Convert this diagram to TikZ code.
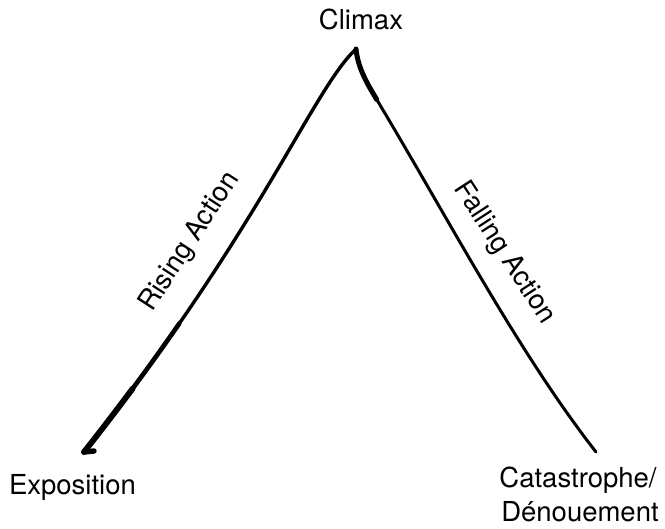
\documentclass[tikz,border=0pt]{standalone}
\usepackage{fontspec}
\setmainfont{TeX Gyre Heros}
\begin{document}
\begin{tikzpicture}[
    x=1pt, y=-1pt,
    curve/.style={line width=3.4pt, line cap=round, line join=round},
    lead/.style={dash pattern=on #1 off 2000pt},
    label/.style={font=\fontsize{27.5}{33}\selectfont, inner sep=0pt}
]
\useasboundingbox (0,0) rectangle (665,529);

% ends and top of the plot
\coordinate (expo) at (84,452);
\coordinate (hook) at (94,451);
\coordinate (climax) at (356,49);
\coordinate (bend) at (377,100);
\coordinate (cata) at (596,452);

% rising side, heavier towards the bottom
\def\risepath{(expo) .. controls (262,227) and (313,89) .. (climax)}
\draw[curve] \risepath;
\draw[curve, line width=4.6pt, lead=160pt] \risepath;
\draw[curve, line width=5.8pt, lead=80pt] \risepath;
\draw[curve, line width=5.4pt] (hook) -- (expo);

% falling side, heavier near the top
\def\fallpath{(climax) .. controls (358,70) and (370,88) .. (bend)
  .. controls (449,220) and (518,352) .. (cata)}
\draw[curve, line width=3pt] \fallpath;
\draw[curve, line width=5pt, lead=55pt] \fallpath;

\node[label, anchor=base] (climaxlbl) at (361,30) {Climax};
\node[label, anchor=base] (expolbl) at (72.5,495) {Exposition};
\node[label, anchor=base] (catalbl) at (578,488) {Catastrophe/};
\node[label, anchor=base] (denlbl) at (580,522) {Dénouement};

\node[label, rotate=57] (rising) at (190,242) {Rising Action};
\node[label, rotate=-57] (falling) at (504,253) {Falling Action};

\end{tikzpicture}
\end{document}
